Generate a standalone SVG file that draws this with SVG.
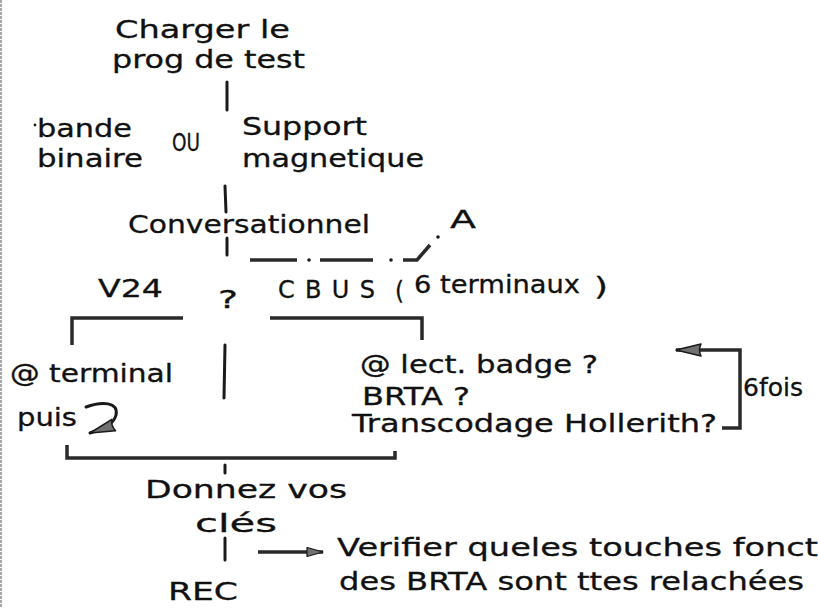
<svg xmlns="http://www.w3.org/2000/svg" width="818" height="608" viewBox="0 0 818 608">
<style>
  .t { font-family: "DejaVu Sans", "Liberation Sans", sans-serif; fill: #111; font-size: 24px; stroke: #111; stroke-width: 0.3; }
  .c { fill: none; stroke: #1a1a1a; stroke-width: 3; stroke-linecap: round; stroke-linejoin: round; }
  .b { fill: none; stroke: #2a2a2a; stroke-width: 3.5; stroke-linecap: butt; stroke-linejoin: miter; }
  .dot { fill: #1a1a1a; }
</style>
<defs>
  <marker id="ah" viewBox="0 0 27 14" refX="26" refY="7" markerWidth="27" markerHeight="14" markerUnits="userSpaceOnUse" orient="auto">
    <path d="M1,1 L26,7 L1,13 Q4,7 1,1 Z" fill="#707070" stroke="#1a1a1a" stroke-width="1.5" stroke-linejoin="round"/>
  </marker>
  <marker id="ahs" viewBox="0 0 18 11" refX="17" refY="5.5" markerWidth="18" markerHeight="11" markerUnits="userSpaceOnUse" orient="auto">
    <path d="M1,1 L17,5.5 L1,10 Z" fill="#707070" stroke="#1a1a1a" stroke-width="1.2" stroke-linejoin="round"/>
  </marker>
</defs>
<rect width="818" height="608" fill="#ffffff"/>
<line x1="1" y1="0" x2="1" y2="608" stroke="#8a8a8a" stroke-width="1.5" stroke-dasharray="3 1"/>

<g id="connectors">
  <line class="c" x1="227" y1="82" x2="227" y2="110"/>
  <line class="c" x1="225" y1="186" x2="226" y2="212"/>
  <line class="c" x1="227" y1="238" x2="227" y2="255"/>
  <path class="b" d="M250,260 H297 M320,260 H373 M403,260 H417 L430,245"/>
  <circle class="dot" cx="309" cy="260" r="1.8"/>
  <circle class="dot" cx="391" cy="260" r="1.8"/>
  <circle class="dot" cx="438" cy="237" r="1.8"/>
  <path class="b" d="M72,345 V318 H183"/>
  <path class="b" d="M270,318 H422 V340"/>
  <line class="c" x1="225" y1="345" x2="224" y2="398"/>
  <path class="c" d="M86,407 C102,401 119,402 116,415 C114,423 108,427 90,433" marker-end="url(#ah)"/>
  <path class="b" d="M67,445 V458 H395 V451"/>
  <line class="c" x1="225" y1="465" x2="225" y2="473"/>
  <line class="c" x1="225" y1="538" x2="225" y2="560"/>
  <path class="b" d="M258,552 H323" marker-end="url(#ahs)"/>
  <path class="b" d="M722,428 H740 V350 H676" marker-end="url(#ah)"/>
  <circle class="dot" cx="35" cy="125" r="1.4"/>
</g>

<g id="n-charger">
  <text class="t" x="115" y="38" font-size="26" textLength="175" lengthAdjust="spacingAndGlyphs">Charger le</text>
  <text class="t" x="112" y="68" font-size="26" textLength="193" lengthAdjust="spacingAndGlyphs">prog de test</text>
</g>
<g id="n-bande">
  <text class="t" x="37" y="137" textLength="95" lengthAdjust="spacingAndGlyphs">bande</text>
  <text class="t" x="37" y="167" textLength="106" lengthAdjust="spacingAndGlyphs">binaire</text>
</g>
<g id="n-ou">
  <text class="t" x="172" y="151" font-size="32" textLength="28" lengthAdjust="spacingAndGlyphs">OU</text>
</g>
<g id="n-support">
  <text class="t" x="242" y="135" font-size="26" textLength="125" lengthAdjust="spacingAndGlyphs">Support</text>
  <text class="t" x="242" y="167" textLength="182" lengthAdjust="spacingAndGlyphs">magnetique</text>
</g>
<g id="n-conversationnel">
  <text class="t" x="128" y="233" textLength="242" lengthAdjust="spacingAndGlyphs">Conversationnel</text>
</g>
<g id="n-a">
  <text class="t" x="450" y="228" font-size="40" textLength="26" lengthAdjust="spacingAndGlyphs">A</text>
</g>
<g id="n-v24">
  <text class="t" x="98" y="297" font-size="34" textLength="65" lengthAdjust="spacingAndGlyphs">V24</text>
</g>
<g id="n-q">
  <text class="t" x="218" y="308" font-size="34" textLength="20" lengthAdjust="spacingAndGlyphs">?</text>
</g>
<g id="n-cbus">
  <text class="t" x="278" y="298" font-size="25" textLength="97" lengthAdjust="spacing">CBUS</text>
  <text class="t" x="395" y="299" font-size="42" textLength="9" lengthAdjust="spacingAndGlyphs">(</text>
  <text class="t" x="414" y="293" font-size="26" textLength="166" lengthAdjust="spacingAndGlyphs">6 terminaux</text>
  <text class="t" x="594" y="295" font-size="42" textLength="14" lengthAdjust="spacingAndGlyphs">)</text>
</g>
<g id="n-terminal">
  <text class="t" x="10" y="382" font-size="25" textLength="163" lengthAdjust="spacingAndGlyphs">@ terminal</text>
  <text class="t" x="17" y="426" font-size="25" textLength="60" lengthAdjust="spacingAndGlyphs">puis</text>
</g>
<g id="n-lect">
  <text class="t" x="360" y="373" font-size="25" textLength="238" lengthAdjust="spacingAndGlyphs">@ lect. badge ?</text>
  <text class="t" x="362" y="405" font-size="24" textLength="108" lengthAdjust="spacingAndGlyphs">BRTA ?</text>
  <text class="t" x="352" y="432" font-size="25" textLength="365" lengthAdjust="spacingAndGlyphs">Transcodage Hollerith?</text>
</g>
<g id="n-6fois">
  <text class="t" x="743" y="396" font-size="27" textLength="60" lengthAdjust="spacingAndGlyphs">6fois</text>
</g>
<g id="n-donnez">
  <text class="t" x="145" y="498" font-size="29" textLength="202" lengthAdjust="spacingAndGlyphs">Donnez vos</text>
  <text class="t" x="195" y="532" font-size="25" textLength="82" lengthAdjust="spacingAndGlyphs">clés</text>
</g>
<g id="n-rec">
  <text class="t" x="168" y="600" font-size="28" textLength="70" lengthAdjust="spacingAndGlyphs">REC</text>
</g>
<g id="n-verifier">
  <text class="t" x="337" y="556" font-size="25" textLength="481" lengthAdjust="spacingAndGlyphs">Verifier queles touches fonct</text>
  <text class="t" x="339" y="590" font-size="25" textLength="465" lengthAdjust="spacingAndGlyphs">des BRTA sont ttes relachées</text>
</g>
</svg>
